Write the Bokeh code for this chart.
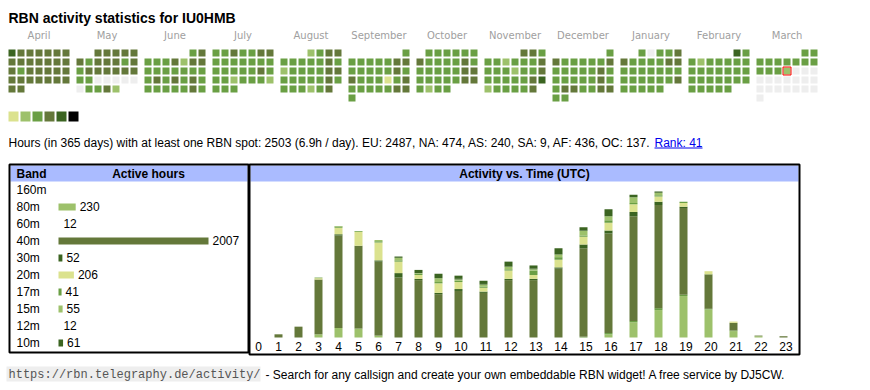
import calendar
from datetime import date
import numpy as np
from bokeh.plotting import figure
from bokeh.models import Range1d
from bokeh.core.properties import value
from bokeh.embed import file_html
from bokeh.resources import INLINE

# ---------------- data ----------------
callsign = "IU0HMB"
first_year, first_month = 2024, 4
today = date(2025, 3, 13)
month_names = ["April", "May", "June", "July", "August", "September",
               "October", "November", "December", "January", "February", "March"]
# daily activity level, one character per day (0 = no spot, 1..5 = more hours)
day_levels = [
    "5444444" "4444444" "4344444" "4444444" "44",             # April
    "44444" "4344434" "3444444" "3300000" "03342",            # May
    "34" "3334244" "3333333" "3434343" "3333343",             # June
    "3343344" "3333333" "3333343" "3323332" "333",            # July
    "2344" "3333343" "2333344" "3333343" "333234",            # August
    "3" "3333344" "3333343" "4333134" "3333344" "3",          # September
    "333333" "4333343" "3333344" "3333344" "3233",            # October
    "443" "3323334" "3332334" "3333345" "233334",             # November
    "3" "4333334" "3333343" "3333343" "3443344" "33",         # December
    "30334" "4333344" "3333333" "3333334" "33333",            # January
    "53" "3233333" "3333333" "3333333" "33333",               # February
    "33" "3333333" "3332",                                    # March (until today)
]

bands = ["160m", "80m", "60m", "40m", "30m", "20m", "17m", "15m", "12m", "10m"]
band_hours = [0, 230, 12, 2007, 52, 206, 41, 55, 12, 61]

hours = list(range(24))
hourly = {
    "160m": [0] * 24,
    "80m": [0, 0, 0, 5, 15, 14, 3, 0, 0, 0, 0, 0, 0, 0, 0, 0, 5, 24, 43, 65, 44, 10, 2, 0],
    "60m": [0, 0, 0, 0, 0, 0, 0, 0, 0, 0, 0, 0, 0, 0, 0, 1, 2, 2, 3, 2, 1, 1, 0, 0],
    "40m": [0, 5, 17, 86, 145, 130, 116, 94, 90, 68, 73, 70, 90, 90, 108, 139, 156, 164, 162, 136, 53, 12, 1, 2],
    "30m": [0, 0, 0, 0, 2, 0, 2, 7, 2, 2, 3, 2, 2, 2, 2, 6, 5, 7, 5, 2, 1, 0, 0, 0],
    "20m": [0, 0, 0, 2, 10, 22, 28, 18, 6, 15, 11, 6, 13, 6, 12, 12, 12, 12, 8, 6, 5, 2, 0, 0],
    "17m": [0, 0, 0, 1, 2, 1, 2, 2, 2, 2, 2, 2, 2, 7, 4, 2, 4, 2, 2, 2, 0, 0, 0, 0],
    "15m": [0, 0, 0, 0, 1, 0, 2, 4, 1, 6, 2, 3, 4, 2, 4, 7, 6, 9, 4, 0, 0, 0, 0, 0],
    "12m": [0, 0, 0, 0, 0, 0, 0, 0, 0, 0, 1, 1, 1, 1, 1, 1, 2, 2, 2, 0, 0, 0, 0, 0],
    "10m": [0, 0, 0, 0, 0, 0, 0, 2, 5, 7, 5, 5, 7, 5, 9, 5, 9, 2, 0, 0, 0, 0, 0, 0],
}

total_hours = 2503
period_days = 365
continents = ["EU", "NA", "AS", "SA", "AF", "OC"]
continent_hours = [2487, 474, 240, 9, 436, 137]
rank = 41
url = "https://rbn.telegraphy.de/activity/"
footer = "- Search for any callsign and create your own embeddable RBN widget! A free service by DJ5CW."

# ---------------- style ----------------
GRAY, YEL, LIG, MED, OLI, DRK = "#eeeeee", "#dbe28e", "#9dc16b", "#6a9f44", "#64783a", "#3b6421"
level_colors = [GRAY, YEL, LIG, MED, OLI, DRK]
legend_colors = [YEL, LIG, MED, OLI, DRK, "#000000"]
band_colors = [YEL, LIG, MED, OLI, DRK, YEL, MED, LIG, DRK, DRK]
HEAD = "#aabbff"
SANS = value("Liberation Sans")
BASE_FIX = 4  # compensate the svg text baseline placement

W, H = 866, 388
p = figure(width=W, height=H, x_range=Range1d(0, W), y_range=Range1d(H, 0),
           output_backend="svg", toolbar_location=None, min_border=0,
           x_axis_type=None, y_axis_type=None)
p.outline_line_color = None
p.background_fill_color = "white"
p.border_fill_color = "white"


def lin_range(v0, p0, v1, p1, lo, hi):
    """Range whose values map linearly v0->p0, v1->p1 for a frame spanning page coords lo..hi."""
    k = (v1 - v0) / (p1 - p0)
    return Range1d(start=v0 + (lo - p0) * k, end=v0 + (hi - p0) * k)


def txt(x, y, text, size="12px", font=SANS, **kw):
    y = np.asarray(y, float) - BASE_FIX
    p.text(x=x, y=y, text=text, text_font=font, text_font_size=size,
           text_baseline="alphabetic", **kw)


# ---------------- title ----------------
txt([8], [21], [f"RBN activity statistics for {callsign}"], size="14px",
    text_font_style="bold", text_color="black")

# ---------------- calendar heatmap ----------------
cl, cr, ct, cb, cc = [], [], [], [], []
mx = []
today_cell = None
for m, name in enumerate(month_names):
    y_, mo = divmod(first_month - 1 + m, 12)
    yr, mo = first_year + y_, mo + 1
    start_col = date(yr, mo, 1).weekday()
    ndays = calendar.monthrange(yr, mo)[1]
    left0 = 8 + 68 * m
    mx.append(left0 + 30.5)
    levels = day_levels[m]
    for d in range(ndays):
        row, col = divmod(start_col + d, 7)
        x0 = left0 + 9 * col
        y0 = 49 + 9 * row
        lev = int(levels[d]) if d < len(levels) else 0
        cl.append(x0); cr.append(x0 + 7); ct.append(y0); cb.append(y0 + 7)
        cc.append(level_colors[lev])
        if date(yr, mo, d + 1) == today:
            today_cell = (x0, y0)

p.quad(left=cl, right=cr, top=ct, bottom=cb, fill_color=cc, line_color=None)
if today_cell:
    tx, ty = today_cell
    p.quad(left=[tx - 0.5], right=[tx + 7.5], top=[ty - 0.5], bottom=[ty + 7.5],
           fill_color=None, line_color="#ff0000", line_width=1)
txt(mx, [39] * len(mx), month_names, size="10px", font=value("DejaVu Sans"),
    text_align="center", text_color="#a0a0a0")

lx = [8 + 12 * i for i in range(len(legend_colors))]
p.quad(left=lx, right=[x + 10 for x in lx], top=[111] * len(lx), bottom=[121] * len(lx),
       fill_color=legend_colors, line_color=None)

# ---------------- stats line ----------------
stats = (f"Hours (in {period_days} days) with at least one RBN spot: {total_hours} "
         f"({total_hours / period_days:.1f}h / day). "
         + ", ".join(f"{c}: {v}" for c, v in zip(continents, continent_hours)) + ".")
txt([8], [146], [stats], text_color="black")
txt([654], [146], [f"Rank: {rank}"], text_color="#0000ee")
p.segment(x0=[654], x1=[702], y0=[147.5], y1=[147.5], line_color="#0000ee", line_width=1)

# ---------------- boxes ----------------
p.quad(left=[10, 250], right=[247, 798], top=[165, 165], bottom=[181, 181],
       fill_color=HEAD, line_color=None)
p.quad(left=[9, 249], right=[248, 799], top=[164, 164], bottom=[352, 354],
       fill_color=None, line_color="black", line_width=2)
txt([16], [177], ["Band"], text_font_style="bold", text_color="black")
txt([148], [177], ["Active hours"], text_font_style="bold", text_align="center", text_color="black")
txt([524], [177], ["Activity vs. Time (UTC)"], text_font_style="bold", text_align="center",
    text_color="black")

# ---------------- band bars ----------------
band_max = max(band_hours)
BAR_LEN = 150
p.extra_x_ranges = {"band": lin_range(0, 58, band_max, 58 + BAR_LEN, 0, W)}
rows = np.arange(len(bands))
row_center = 189.5 + 17 * rows
row_base = 193 + 17 * rows
# bars shorter than one pixel are not drawn (as in the original widget)
bar_len = [v if v * BAR_LEN / band_max >= 1 else 0 for v in band_hours]
txt([16] * len(bands), row_base, bands, text_color="black")
p.hbar(y=row_center, left=0, right=bar_len, height=7, fill_color=band_colors,
       line_color=None, x_range_name="band")
txt(band_hours, row_base, [str(v) if v else "" for v in band_hours], x_offset=4,
    text_color="black", x_range_name="band")

# ---------------- activity vs time ----------------
totals = np.sum([hourly[b] for b in bands], axis=0)
p.extra_y_ranges = {"act": lin_range(0, 337, float(totals.max()), 191, H, 0)}
hour_w = np.array([20 if h < 10 else 25 for h in hours], float)
cell_left = 248 + np.cumsum(hour_w) - hour_w
bar_x = cell_left + 10
label_x = cell_left + hour_w / 2
bottom = np.zeros(24)
for b, col in zip(bands, band_colors):
    vals = np.array(hourly[b], float)
    p.vbar(x=bar_x, bottom=bottom, top=bottom + vals, width=8, fill_color=col,
           line_color=None, y_range_name="act")
    bottom = bottom + vals
txt(label_x, [350] * 24, [str(h) for h in hours], text_align="center", text_color="black")

# ---------------- footer ----------------
p.quad(left=[6], right=[260], top=[366], bottom=[381], fill_color="#eeeeee", line_color=None)
txt([8], [378], [url], font=value("Liberation Mono"), text_color="#555555")
txt([265], [378], [footer], text_color="black")

open("out.html", "w").write(file_html(p, INLINE))
